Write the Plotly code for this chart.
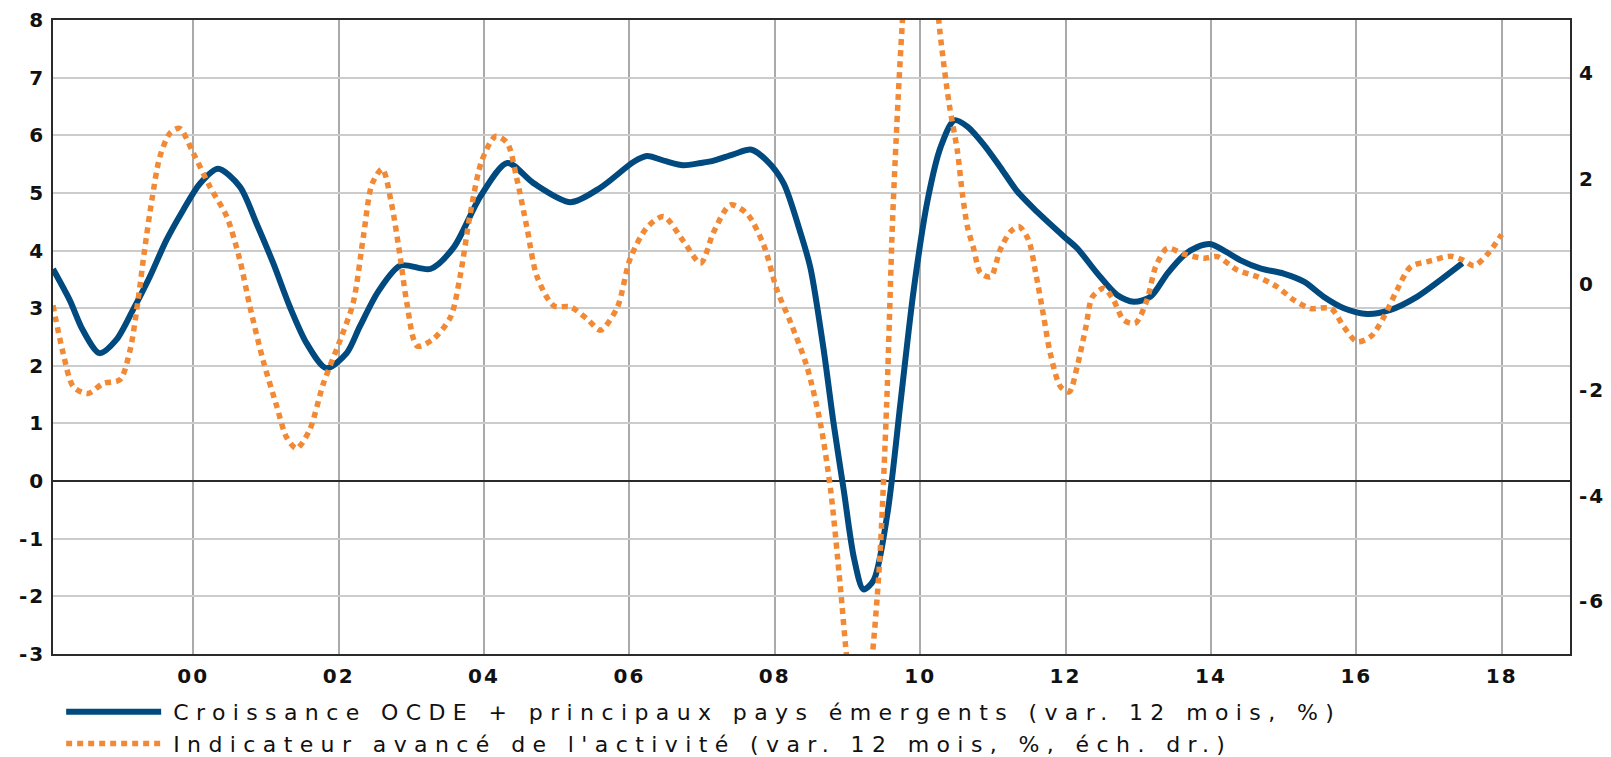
import plotly.graph_objects as go

# ---------------- data (decimal years) ----------------
growth_years = [1998.07, 1998.30, 1998.48, 1998.71, 1998.94, 1999.17, 1999.40, 1999.63, 1999.86,
                2000.09, 2000.34, 2000.64, 2000.87, 2001.10, 2001.33, 2001.56, 2001.83, 2002.11,
                2002.29, 2002.55, 2002.85, 2003.26, 2003.58, 2003.95, 2004.32, 2004.68, 2005.19,
                2005.60, 2006.06, 2006.24, 2006.50, 2006.74, 2006.98, 2007.16, 2007.43, 2007.68,
                2007.89, 2008.12, 2008.35, 2008.49, 2008.67, 2008.81, 2008.95, 2009.09, 2009.22,
                2009.36, 2009.55, 2009.73, 2009.91, 2010.10, 2010.28, 2010.47, 2010.65, 2010.88,
                2011.10, 2011.34, 2011.61, 2011.98, 2012.16, 2012.44, 2012.71, 2012.94, 2013.17,
                2013.40, 2013.63, 2013.81, 2014.00, 2014.18, 2014.41, 2014.68, 2015.00, 2015.28,
                2015.55, 2015.83, 2016.15, 2016.47, 2016.84, 2017.16, 2017.46]
growth_values = [3.68, 3.14, 2.62, 2.22, 2.45, 2.97, 3.54, 4.18, 4.70,
                 5.16, 5.42, 5.11, 4.47, 3.78, 3.02, 2.39, 1.96, 2.22,
                 2.68, 3.30, 3.74, 3.68, 4.05, 4.94, 5.52, 5.17, 4.84,
                 5.09, 5.54, 5.64, 5.55, 5.48, 5.52, 5.56, 5.67, 5.75,
                 5.56, 5.17, 4.32, 3.70, 2.30, 0.99, -0.17, -1.34, -1.88,
                 -1.72, -0.56, 1.37, 3.31, 4.86, 5.79, 6.26, 6.15, 5.83,
                 5.45, 5.02, 4.67, 4.24, 4.04, 3.60, 3.23, 3.11, 3.20,
                 3.60, 3.92, 4.06, 4.11, 4.00, 3.83, 3.69, 3.60, 3.46,
                 3.20, 3.00, 2.90, 2.97, 3.20, 3.49, 3.78]

lead_years = [1998.07, 1998.21, 1998.35, 1998.55, 1998.76, 1998.99, 1999.13, 1999.24, 1999.33,
              1999.43, 1999.54, 1999.68, 1999.81, 2000.00, 2000.23, 2000.46, 2000.64, 2000.78,
              2000.96, 2001.15, 2001.28, 2001.42, 2001.60, 2001.79, 2002.02, 2002.20, 2002.34,
              2002.46, 2002.60, 2002.73, 2002.85, 2002.94, 2003.08, 2003.30, 2003.54, 2003.67,
              2003.81, 2003.97, 2004.16, 2004.32, 2004.45, 2004.59, 2004.73, 2004.96, 2005.19,
              2005.42, 2005.60, 2005.83, 2006.01, 2006.24, 2006.47, 2006.74, 2006.98, 2007.16,
              2007.39, 2007.62, 2007.85, 2008.03, 2008.21, 2008.44, 2008.63, 2008.77, 2008.90,
              2009.00, 2009.17, 2009.33, 2009.44, 2009.54, 2009.62, 2009.70, 2009.77, 2009.88,
              2010.00, 2010.14, 2010.27, 2010.40, 2010.51, 2010.58, 2010.65, 2010.74, 2010.83,
              2010.97, 2011.10, 2011.24, 2011.36, 2011.49, 2011.59, 2011.70, 2011.79, 2011.93,
              2012.05, 2012.16, 2012.28, 2012.37, 2012.53, 2012.66, 2012.80, 2012.96, 2013.12,
              2013.24, 2013.40, 2013.63, 2013.90, 2014.09, 2014.36, 2014.64, 2014.91, 2015.14,
              2015.37, 2015.65, 2015.83, 2016.01, 2016.20, 2016.38, 2016.56, 2016.75, 2017.02,
              2017.30, 2017.46, 2017.62, 2017.80, 2018.00]
lead_values = [-0.40, -1.31, -1.94, -2.07, -1.88, -1.81, -1.25, -0.30, 0.65,
               1.59, 2.41, 2.86, 2.95, 2.48, 1.84, 1.28, 0.46, -0.43,
               -1.44, -2.32, -2.89, -3.11, -2.76, -1.88, -1.06, -0.35, 0.90,
               1.90, 2.18, 1.50, 0.48, -0.37, -1.17, -1.04, -0.62, 0.14,
               1.33, 2.34, 2.80, 2.67, 2.00, 1.07, 0.14, -0.41, -0.43,
               -0.66, -0.87, -0.45, 0.48, 1.07, 1.28, 0.82, 0.40, 0.99,
               1.50, 1.33, 0.73, -0.11, -0.70, -1.55, -2.65, -3.92, -5.70,
               -7.20, -9.00, -7.20, -5.30, -2.23, 1.20, 3.60, 5.30, 7.40,
               8.30, 6.80, 4.80, 3.40, 2.54, 1.72, 1.09, 0.65, 0.21,
               0.14, 0.65, 0.99, 1.09, 0.84, 0.21, -0.62, -1.31, -1.94,
               -2.04, -1.56, -0.81, -0.24, -0.08, -0.30, -0.68, -0.74, -0.30,
               0.33, 0.68, 0.57, 0.49, 0.52, 0.27, 0.14, -0.05, -0.30,
               -0.46, -0.46, -0.81, -1.09, -0.99, -0.62, -0.11, 0.33, 0.44,
               0.53, 0.46, 0.35, 0.56, 0.94]

x_tick_vals = [2000, 2002, 2004, 2006, 2008, 2010, 2012, 2014, 2016, 2018]
x_tick_text = ["00", "02", "04", "06", "08", "10", "12", "14", "16", "18"]
left_tick_vals = [-3, -2, -1, 0, 1, 2, 3, 4, 5, 6, 7, 8]
left_tick_text = ["-3", "-2", "-1", "0", "1", "2", "3", "4", "5", "6", "7", "8"]
right_tick_vals = [-6, -4, -2, 0, 2, 4]
right_tick_text = ["-6", "-4", "-2", "0", "2", "4"]

name_growth = "Croissance OCDE + principaux pays émergents (var. 12 mois, %)"
name_lead = "Indicateur avancé de l'activité (var. 12 mois, %, éch. dr.)"

BLUE = "#004a7f"
ORANGE = "#f28a35"


def spaced(text, px):
    return f'<span style="letter-spacing:{px}px">{text}</span>'


fig = go.Figure()
fig.add_trace(go.Scatter(
    x=growth_years, y=growth_values, mode="lines",
    name="\u00a0" + spaced(name_growth, 7.4),
    line=dict(color=BLUE, width=6, shape="spline", smoothing=0.8),
    yaxis="y", cliponaxis=True,
))
fig.add_trace(go.Scatter(
    x=lead_years, y=lead_values, mode="lines",
    name="\u00a0" + spaced(name_lead, 7.4),
    line=dict(color=ORANGE, width=5.5, dash="6px,5px", shape="spline", smoothing=0.8),
    yaxis="y2", cliponaxis=True,
))

tickfont = dict(family="DejaVu Sans", size=20, color="#111111", weight="bold")

fig.update_layout(
    width=1611, height=757,
    margin=dict(l=45, r=49, t=12, b=111, autoexpand=False),
    paper_bgcolor="white", plot_bgcolor="white",
    showlegend=True,
    legend=dict(
        xref="container", yref="container",
        x=0.033, y=1 - 683 / 757, xanchor="left", yanchor="top",
        font=dict(family="DejaVu Sans", size=22, color="#111111"),
        itemwidth=95, bgcolor="rgba(0,0,0,0)", borderwidth=0,
        tracegroupgap=0,
    ),
    xaxis=dict(
        range=[1998.07, 2018.94], tickmode="array",
        tickvals=x_tick_vals, ticktext=[spaced(t, 2) for t in x_tick_text],
        showgrid=True, gridcolor="#aaaaaa", gridwidth=2,
        showline=True, linecolor="#2a2a2a", linewidth=1.5, mirror=True,
        zeroline=False, ticks="", tickfont=tickfont, ticklabelstandoff=3,
    ),
    yaxis=dict(
        range=[-3, 8], tickmode="array",
        tickvals=left_tick_vals, ticktext=[spaced(t, 2) for t in left_tick_text],
        showgrid=True, gridcolor="#cccccc", gridwidth=1.5,
        zeroline=True, zerolinecolor="#2a2a2a", zerolinewidth=1.5,
        showline=True, linecolor="#2a2a2a", linewidth=1.5, mirror=True,
        ticks="", tickfont=tickfont, ticklabelstandoff=2,
    ),
    yaxis2=dict(
        range=[-7, 5], overlaying="y", side="right", tickmode="array",
        tickvals=right_tick_vals, ticktext=[spaced(t, 2) for t in right_tick_text],
        showgrid=False, zeroline=False, showline=False,
        ticks="", tickfont=tickfont, ticklabelstandoff=8,
    ),
)

fig.write_html("out.html")
